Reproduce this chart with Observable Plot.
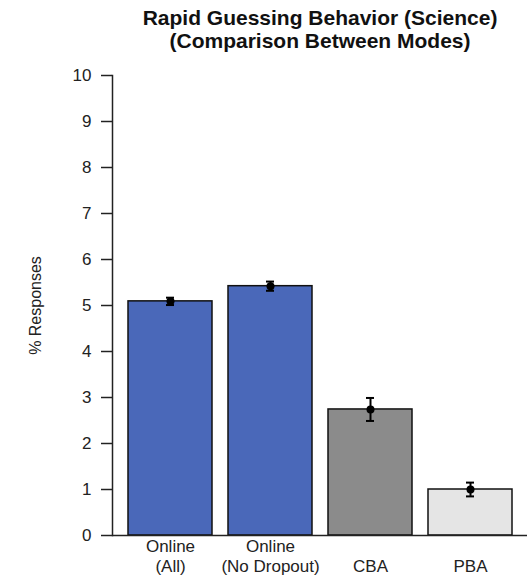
<!DOCTYPE html>
<html>
<head>
<meta charset="utf-8">
<script src="https://cdn.jsdelivr.net/npm/d3@7"></script>
<script src="https://cdn.jsdelivr.net/npm/@observablehq/plot@0.6"></script>
<style>
  html, body { margin: 0; padding: 0; background: #fff; }
  #chart svg { display: block; }
</style>
</head>
<body>
<div id="chart"></div>
<script>
const categories = ["Online (All)", "Online (No Dropout)", "CBA", "PBA"];
const tickLabels = ["Online\n(All)", "Online\n(No Dropout)", "\nCBA", "\nPBA"];
const values = [5.09, 5.42, 2.74, 1.0];
const errors = [0.08, 0.1, 0.25, 0.15];
const colors = ["#4a68b9", "#4a68b9", "#8b8b8b", "#e5e5e5"];
const yTicks = [0, 1, 2, 3, 4, 5, 6, 7, 8, 9, 10];
const titleLines = ["Rapid Guessing Behavior (Science)", "(Comparison Between Modes)"];
const yLabel = "% Responses";

const data = categories.map((c, i) => ({
  cat: c, value: values[i], lo: values[i] - errors[i], hi: values[i] + errors[i], color: colors[i]
}));
const labelMap = new Map(categories.map((c, i) => [c, tickLabels[i]]));

const font = "Liberation Sans, Arial, sans-serif";

const chart = Plot.plot({
  width: 527,
  height: 577,
  marginLeft: 112,
  marginRight: 0,
  marginTop: 75,
  marginBottom: 42,
  style: { fontFamily: font, fontSize: "16px", color: "#222", background: "#fff" },
  x: { domain: categories, paddingInner: 0.16, paddingOuter: 0.155 },
  y: { domain: [0, 10] },
  marks: [
    Plot.barY(data, { x: "cat", y: "value", fill: d => d.color, stroke: "#111", strokeWidth: 1.5 }),
    Plot.ruleX(data, { x: "cat", y1: "lo", y2: "hi", stroke: "#000", strokeWidth: 2 }),
    Plot.tickY(data, { x: "cat", y: "lo", stroke: "#000", strokeWidth: 2, insetLeft: 38, insetRight: 38 }),
    Plot.tickY(data, { x: "cat", y: "hi", stroke: "#000", strokeWidth: 2, insetLeft: 38, insetRight: 38 }),
    Plot.dot(data, { x: "cat", y: "value", r: 4, fill: "#000" }),
    Plot.ruleY([0], { stroke: "#222", strokeWidth: 1.5 }),
    Plot.frame({ anchor: "left", stroke: "#222", strokeWidth: 1.5 }),
    Plot.axisY({ ticks: yTicks, tickSize: 11, tickPadding: 10, strokeWidth: 1.5, fontSize: 17,
      label: null }),
    Plot.axisY({ ticks: [], tickSize: 0, fontSize: 16, label: yLabel, labelAnchor: "center",
      labelArrow: "none", labelOffset: 83 }),
    Plot.axisX({ tickSize: 0, tickPadding: 2, fontSize: 17, lineHeight: 1.2,
      tickFormat: d => labelMap.get(d), label: null }),
    Plot.text([titleLines.join("\n")], { frameAnchor: "top", dy: -66, lineAnchor: "top",
      fontSize: 21, fontWeight: "bold", lineHeight: 1.07, fill: "#111" })
  ]
});
document.getElementById("chart").append(chart);
</script>
</body>
</html>
